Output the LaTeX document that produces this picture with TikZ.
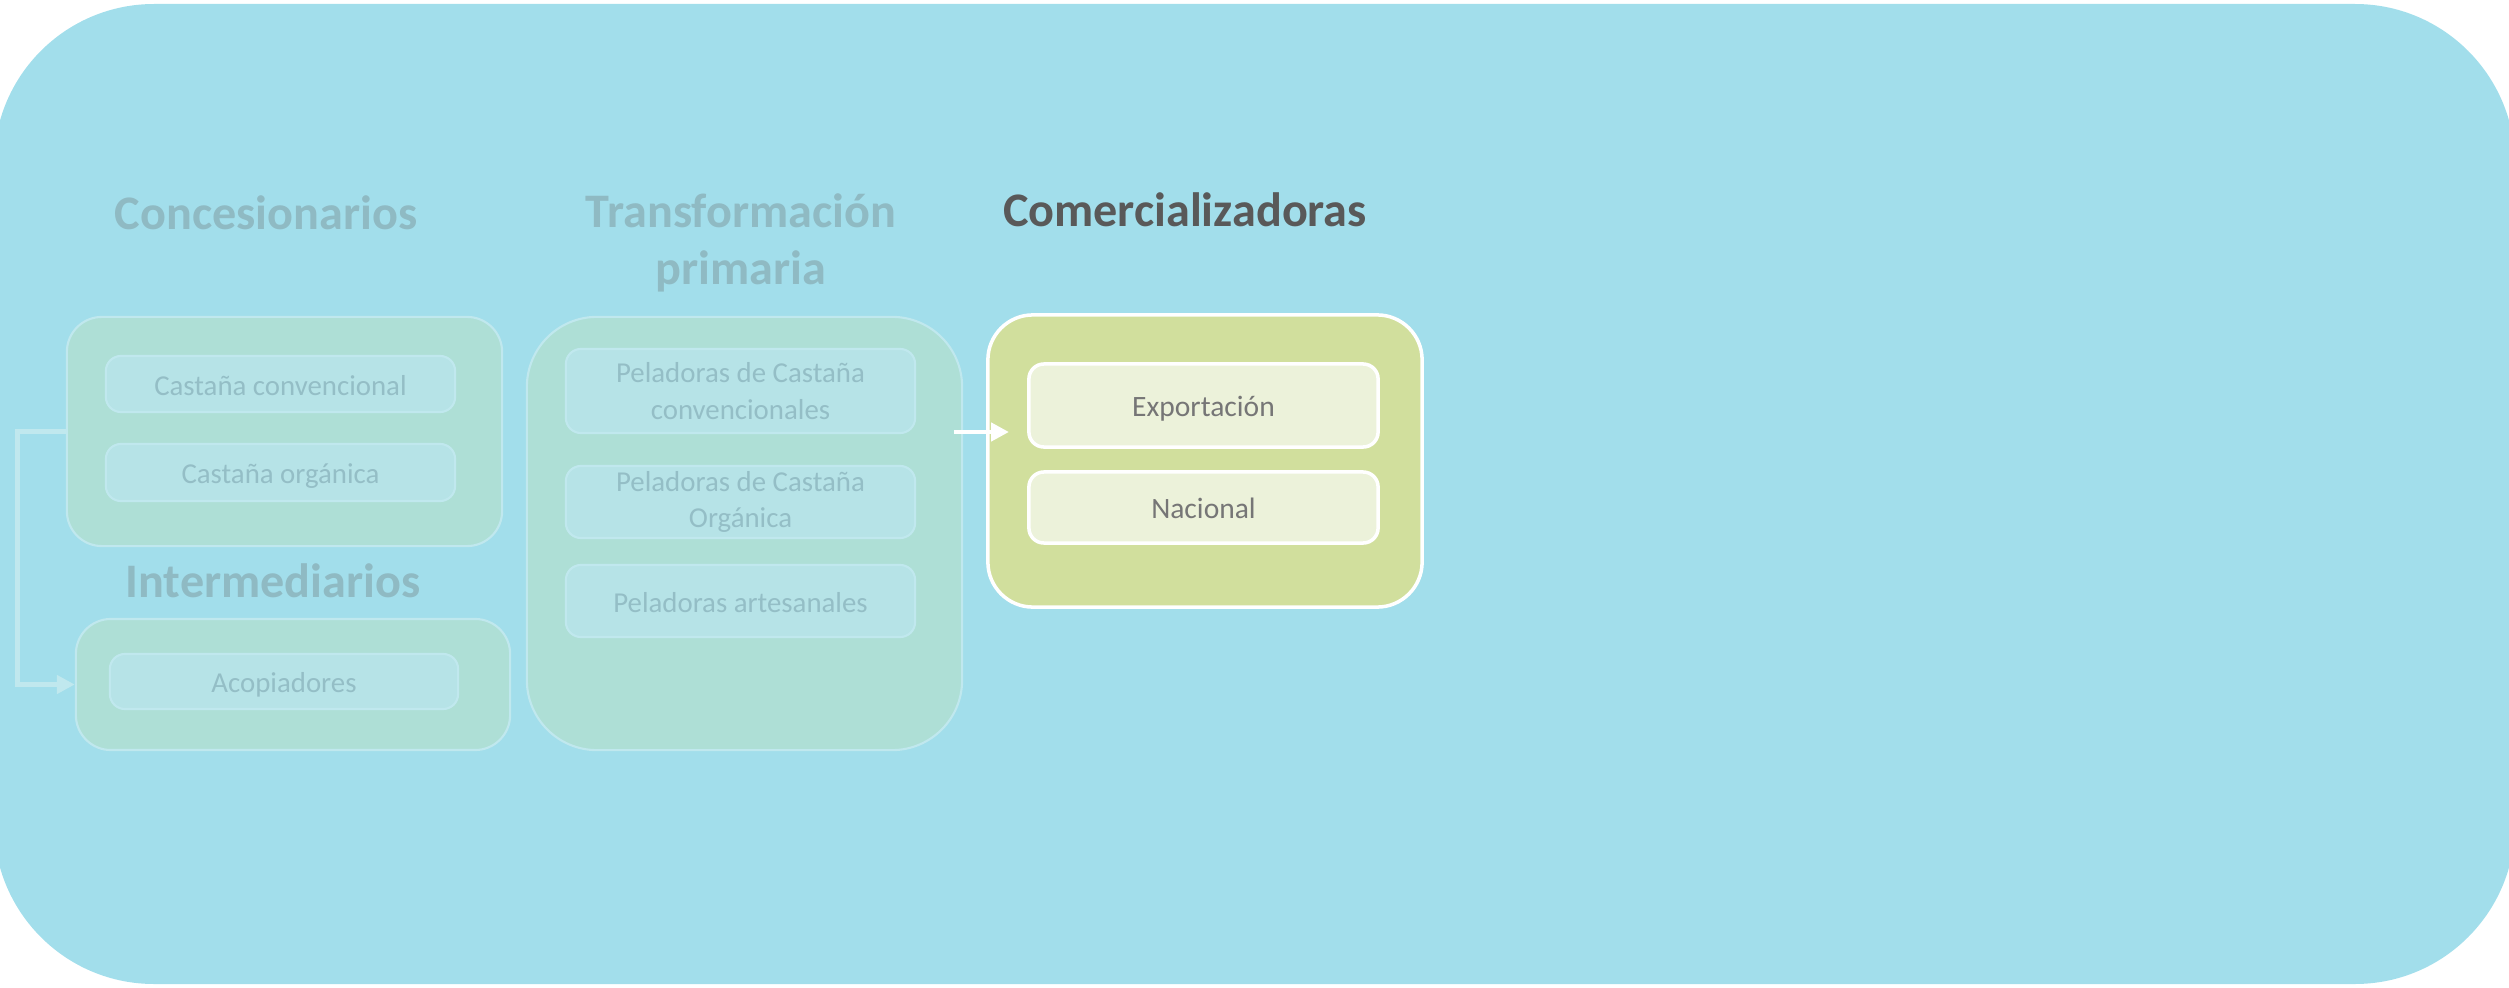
\documentclass[tikz,border=0pt]{standalone}
\usepackage{fontspec}
\setmainfont{Carlito}
\usetikzlibrary{arrows.meta}
\definecolor{bgc}{HTML}{A2DEEB}
\definecolor{fadegreen}{HTML}{AEDFD6}
\definecolor{fadeinner}{HTML}{B6E3E7}
\definecolor{fadeborder}{HTML}{C0E8EE}
\definecolor{fadetext}{HTML}{94BEC6}
\definecolor{fadetitle}{HTML}{8FBAC3}
\definecolor{comgreen}{HTML}{D1DF9D}
\definecolor{cominner}{HTML}{ECF2DA}
\definecolor{comtext}{HTML}{767676}
\definecolor{comtitle}{HTML}{595959}
\tikzset{
  x=0.01cm, y=-0.01cm,
  outerbox/.style={draw=fadeborder, line width=0.6pt, fill=fadegreen, inner sep=0pt},
  innerbox/.style={draw=fadeborder, line width=0.6pt, fill=fadeinner, rounded corners=1.5mm,
     inner sep=0pt, text=fadetext, font=\fontsize{8.2pt}{10.5pt}\selectfont, align=center},
  combox/.style={draw=white, line width=1pt, fill=comgreen, rounded corners=4.5mm, inner sep=0pt},
  cominnerbox/.style={draw=white, line width=1pt, fill=cominner, rounded corners=1.5mm,
     inner sep=0pt, text=comtext, font=\fontsize{8.4pt}{10.5pt}\selectfont, align=center},
  oneline/.style={text height=0.64em, text depth=0pt},
  fadetitlestyle/.style={text=fadetitle, font=\fontsize{13.7pt}{16pt}\selectfont\bfseries, inner sep=0pt, align=center},
  comtitlestyle/.style={text=comtitle, font=\fontsize{13.7pt}{16pt}\selectfont\bfseries, inner sep=0pt},
  fadearrow/.style={draw=fadeborder, line width=1.4pt, -{Triangle[length=1.8mm,width=1.8mm]}},
  whitearrow/.style={draw=white, line width=1.4pt, -{Triangle[length=1.8mm,width=1.8mm]}}
}
\begin{document}
\begin{tikzpicture}
\useasboundingbox (0,0) rectangle (2509,988);
\fill[bgc, rounded corners=16mm] (-6,4) rectangle (2515,984);

% Concesionarios
\node[fadetitlestyle, anchor=base] (tconc) at (266,230) {Concesionarios};
\node[outerbox, rounded corners=3.5mm, minimum width=43.5mm, minimum height=22.9mm] (conc) at (284.5,431.5) {};
\node[innerbox, oneline, minimum width=34.9mm, minimum height=5.6mm] (cconv) at (280.5,384) {Castaña convencional};
\node[innerbox, oneline, minimum width=34.9mm, minimum height=5.7mm] (corg) at (280.5,472.5) {Castaña orgánica};

% Intermediarios
\node[fadetitlestyle, anchor=base] (tinter) at (273,597) {Intermediarios};
\node[outerbox, rounded corners=3.5mm, minimum width=43.4mm, minimum height=13.1mm] (inter) at (293,684.5) {};
\node[innerbox, oneline, minimum width=34.8mm, minimum height=5.5mm] (acop) at (284,681.5) {Acopiadores};

% Transformacion primaria
\node[fadetitlestyle, anchor=center] (ttrans) at (741,243) {Transformación\\primaria};
\node[outerbox, rounded corners=7mm, minimum width=43.5mm, minimum height=43.3mm] (trans) at (744.5,533.5) {};
\node[innerbox, minimum width=34.9mm, minimum height=8.4mm] (pconv) at (740.5,391) {Peladoras de Castaña\\convencionales};
\node[innerbox, minimum width=34.9mm, minimum height=7.2mm] (porg) at (740.5,502) {Peladoras de Castaña\\Orgánica};
\node[innerbox, oneline, minimum width=34.9mm, minimum height=7.2mm] (part) at (740.5,601) {Peladoras artesanales};

% Comercializadoras
\node[comtitlestyle, anchor=base] (tcom) at (1185,226) {Comercializadoras};
\node[combox, minimum width=43.4mm, minimum height=29.2mm] (com) at (1205,461) {};
\node[cominnerbox, oneline, minimum width=34.9mm, minimum height=8.3mm] (exp) at (1203.5,405.5) {Exportación};
\node[cominnerbox, oneline, minimum width=34.9mm, minimum height=7.1mm] (nac) at (1203.5,507.5) {Nacional};

% connectors
\draw[fadearrow] (conc.west) -- ++(-48,0) |- (inter.west);
\coordinate (astart) at (954,432);
\coordinate (aend) at (1009,432);
\draw[whitearrow] (astart) -- (aend);
\end{tikzpicture}
\end{document}
